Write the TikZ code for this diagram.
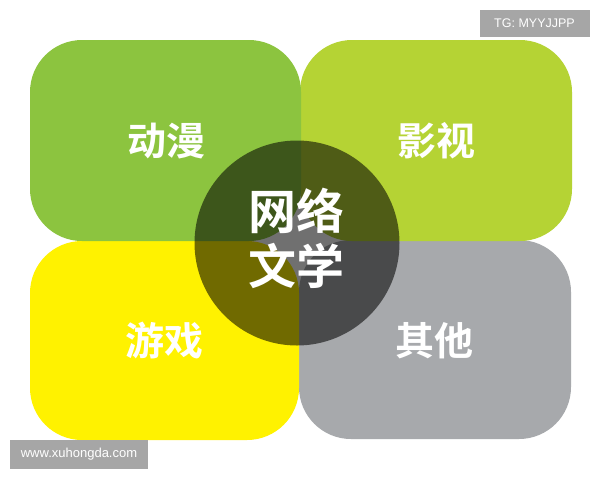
\documentclass[tikz,border=0pt]{standalone}
\usepackage{fontspec}
\setmainfont{Liberation Sans}
\newfontfamily\cjk{Noto Sans CJK SC}[BoldFont={Noto Sans CJK SC Bold}]
\definecolor{cgreen}{RGB}{140,196,63}
\definecolor{clime}{RGB}{181,211,52}
\definecolor{cyellow}{RGB}{255,242,0}
\definecolor{cgray}{RGB}{167,169,172}
\definecolor{wmgray}{RGB}{166,166,166}
\tikzset{
  quad/.style={rounded corners=52pt},
  lbl/.style={text=white, font=\cjk\bfseries\fontsize{39}{41}\selectfont, inner sep=0pt},
  mid/.style={text=white, font=\cjk\bfseries\fontsize{48}{56}\selectfont, inner sep=0pt, align=center},
  wm/.style={fill=wmgray, text=white, inner sep=0pt, font=\fontsize{12.5}{14}\selectfont}
}
\begin{document}
\begin{tikzpicture}[x=1pt,y=-1pt]
\useasboundingbox[fill=white] (0,0) rectangle (600,480);
\fill[cgray,quad] (299,240) rectangle (571,439);
\fill[cyellow,quad] (30,241) rectangle (299,440);
\fill[clime,quad] (300,40) rectangle (572,241);
\fill[cgreen,quad] (30,40) rectangle (301,241);
\node[circle, fill=black, fill opacity=0.56, minimum size=205pt, inner sep=0pt] (core) at (297,243) {};
\node[lbl] (dm) at (166,141) {动漫};
\node[lbl] (ys) at (436,141) {影视};
\node[lbl] (yx) at (164,341) {游戏};
\node[lbl] (qt) at (434,341) {其他};
\node[mid] (wl) at (296,211) {网络};
\node[mid] (wx) at (296,266) {文学};
\node[wm, minimum width=110pt, minimum height=27pt] (tg) at (534.5,23.5) {TG: MYYJJPP};
\node[wm, minimum width=138pt, minimum height=29pt, font=\fontsize{13}{15}\selectfont] (url) at (79,454.5) {www.xuhongda.com};
\end{tikzpicture}
\end{document}
